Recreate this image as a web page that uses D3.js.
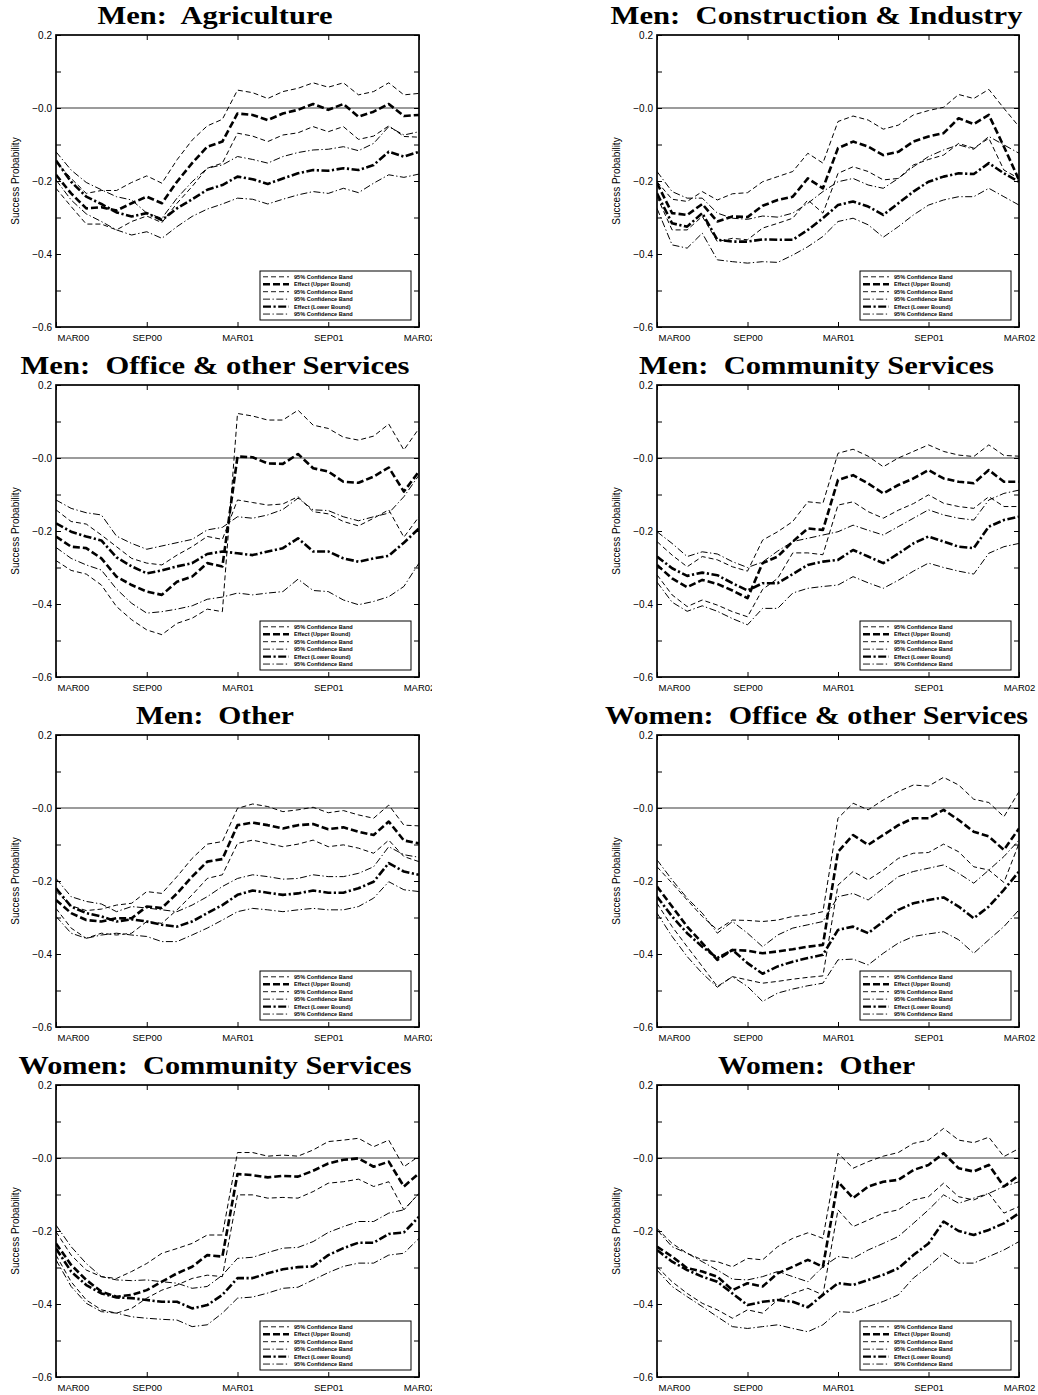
<!DOCTYPE html>
<html><head><meta charset="utf-8">
<script src="https://cdn.jsdelivr.net/npm/d3@7/dist/d3.min.js"></script>
<style>body{margin:0;background:#fff}svg{display:block}</style>
</head><body>
<svg id="chart" width="1038" height="1395"></svg>
<script>
// ---------- categories / labels ----------
const months = ["2000-03","2000-04","2000-05","2000-06","2000-07","2000-08","2000-09","2000-10","2000-11","2000-12",
  "2001-01","2001-02","2001-03","2001-04","2001-05","2001-06","2001-07","2001-08","2001-09","2001-10","2001-11","2001-12",
  "2002-01","2002-02","2002-03"];
const tickMonths = ["2000-03","2000-09","2001-03","2001-09","2002-03"];
const tickLabels = ["MAR00","SEP00","MAR01","SEP01","MAR02"];
const yMajor = [0.2, 0.0, -0.2, -0.4, -0.6];
const yMajorLabels = ["0.2","\u22120.0","\u22120.2","\u22120.4","\u22120.6"];
const yMinor = [0.1, -0.1, -0.3, -0.5];
const legendLabels = ["95% Confidence Band","Effect (Upper Bound)","95% Confidence Band",
  "95% Confidence Band","Effect (Lower Bound)","95% Confidence Band"];
const titles = ["Men:  Agriculture","Men:  Construction & Industry","Men:  Office & other Services",
  "Men:  Community Services","Men:  Other","Women:  Office & other Services",
  "Women:  Community Services","Women:  Other"];
const yLabel = "Success Probability";

// ---------- data: Men Agriculture ----------
const agrCbHi1 = [-0.147,-0.193,-0.234,-0.226,-0.226,-0.204,-0.186,-0.206,-0.142,-0.088,-0.049,-0.031,0.049,0.042,0.026,0.045,0.054,0.069,0.057,0.069,0.036,0.045,0.069,0.036,0.040];
const agrUpper  = [-0.183,-0.234,-0.275,-0.272,-0.281,-0.261,-0.243,-0.261,-0.202,-0.151,-0.106,-0.092,-0.015,-0.019,-0.033,-0.015,-0.005,0.011,-0.005,0.011,-0.024,-0.010,0.011,-0.022,-0.019];
const agrCbLo1 = [-0.220,-0.270,-0.318,-0.318,-0.334,-0.311,-0.296,-0.314,-0.261,-0.215,-0.165,-0.151,-0.069,-0.077,-0.092,-0.074,-0.068,-0.051,-0.065,-0.051,-0.086,-0.077,-0.049,-0.078,-0.080];
const agrCbHi2 = [-0.120,-0.170,-0.204,-0.224,-0.243,-0.252,-0.288,-0.302,-0.247,-0.202,-0.165,-0.156,-0.133,-0.141,-0.151,-0.133,-0.122,-0.115,-0.113,-0.106,-0.117,-0.097,-0.051,-0.074,-0.065];
const agrLower  = [-0.144,-0.202,-0.243,-0.263,-0.286,-0.297,-0.288,-0.307,-0.275,-0.250,-0.224,-0.211,-0.188,-0.195,-0.208,-0.193,-0.179,-0.170,-0.172,-0.165,-0.170,-0.156,-0.120,-0.133,-0.120];
const agrCbLo2 = [-0.197,-0.252,-0.290,-0.311,-0.334,-0.348,-0.339,-0.357,-0.325,-0.297,-0.277,-0.263,-0.247,-0.250,-0.263,-0.250,-0.238,-0.229,-0.234,-0.220,-0.232,-0.206,-0.183,-0.190,-0.181];

// ---------- Men Construction & Industry ----------
const conCbHi1 = [-0.202,-0.250,-0.256,-0.229,-0.252,-0.235,-0.232,-0.202,-0.188,-0.174,-0.124,-0.151,-0.037,-0.022,-0.033,-0.058,-0.047,-0.019,-0.007,0.002,0.037,0.026,0.051,-0.001,-0.051];
const conUpper  = [-0.206,-0.288,-0.293,-0.263,-0.311,-0.297,-0.299,-0.268,-0.252,-0.243,-0.193,-0.220,-0.110,-0.092,-0.106,-0.129,-0.120,-0.092,-0.078,-0.069,-0.028,-0.044,-0.019,-0.106,-0.197];
const conCbLo1 = [-0.243,-0.334,-0.334,-0.297,-0.366,-0.357,-0.361,-0.329,-0.316,-0.302,-0.252,-0.288,-0.179,-0.161,-0.174,-0.197,-0.193,-0.156,-0.141,-0.129,-0.097,-0.110,-0.083,-0.170,-0.193];
const conCbHi2 = [-0.174,-0.229,-0.247,-0.247,-0.288,-0.302,-0.305,-0.296,-0.299,-0.288,-0.261,-0.229,-0.202,-0.193,-0.211,-0.220,-0.193,-0.161,-0.133,-0.115,-0.101,-0.113,-0.078,-0.101,-0.124];
const conLower  = [-0.234,-0.316,-0.325,-0.288,-0.361,-0.366,-0.366,-0.360,-0.361,-0.361,-0.334,-0.302,-0.266,-0.256,-0.270,-0.293,-0.261,-0.229,-0.202,-0.188,-0.179,-0.181,-0.151,-0.179,-0.202];
const conCbLo2 = [-0.275,-0.375,-0.384,-0.343,-0.416,-0.421,-0.425,-0.421,-0.423,-0.403,-0.380,-0.352,-0.311,-0.302,-0.320,-0.354,-0.325,-0.293,-0.266,-0.252,-0.243,-0.243,-0.220,-0.243,-0.266];

// ---------- Men Office & other Services ----------
const offCbHi1 = [-0.281,-0.308,-0.318,-0.348,-0.407,-0.443,-0.471,-0.484,-0.453,-0.439,-0.414,-0.421,0.122,0.115,0.104,0.104,0.131,0.090,0.081,0.057,0.049,0.060,0.093,0.022,0.081];
const offUpper  = [-0.215,-0.243,-0.247,-0.275,-0.325,-0.348,-0.366,-0.375,-0.339,-0.325,-0.288,-0.297,0.004,0.002,-0.015,-0.016,0.011,-0.028,-0.037,-0.065,-0.068,-0.051,-0.026,-0.092,-0.037];
const offCbLo1 = [-0.142,-0.174,-0.181,-0.211,-0.243,-0.275,-0.288,-0.293,-0.266,-0.243,-0.215,-0.223,-0.115,-0.122,-0.129,-0.126,-0.106,-0.147,-0.153,-0.174,-0.186,-0.165,-0.142,-0.217,-0.161];
const offCbHi2 = [-0.115,-0.138,-0.150,-0.156,-0.214,-0.234,-0.250,-0.241,-0.232,-0.223,-0.197,-0.190,-0.161,-0.165,-0.156,-0.141,-0.110,-0.142,-0.144,-0.161,-0.172,-0.161,-0.151,-0.106,-0.047];
const offLower  = [-0.179,-0.202,-0.215,-0.226,-0.272,-0.297,-0.316,-0.308,-0.297,-0.288,-0.263,-0.256,-0.261,-0.266,-0.256,-0.247,-0.220,-0.256,-0.256,-0.275,-0.284,-0.275,-0.268,-0.232,-0.193];
const offCbLo2 = [-0.245,-0.275,-0.293,-0.307,-0.359,-0.398,-0.425,-0.421,-0.414,-0.405,-0.387,-0.381,-0.370,-0.375,-0.370,-0.366,-0.332,-0.363,-0.366,-0.389,-0.402,-0.393,-0.380,-0.352,-0.288];

// ---------- Men Community Services ----------
const comCbHi1 = [-0.229,-0.266,-0.298,-0.270,-0.279,-0.298,-0.310,-0.225,-0.202,-0.174,-0.120,-0.124,0.013,0.024,0.005,-0.024,0.000,0.018,0.036,0.018,0.008,0.004,0.036,0.007,0.005];
const comUpper  = [-0.293,-0.330,-0.354,-0.334,-0.345,-0.363,-0.384,-0.288,-0.270,-0.229,-0.193,-0.197,-0.060,-0.047,-0.070,-0.097,-0.074,-0.056,-0.033,-0.056,-0.065,-0.069,-0.033,-0.065,-0.065];
const comCbLo1 = [-0.320,-0.375,-0.407,-0.389,-0.403,-0.421,-0.435,-0.360,-0.330,-0.260,-0.260,-0.265,-0.129,-0.120,-0.147,-0.165,-0.143,-0.125,-0.101,-0.124,-0.133,-0.138,-0.106,-0.133,-0.133];
const comCbHi2 = [-0.202,-0.234,-0.270,-0.257,-0.263,-0.284,-0.300,-0.285,-0.255,-0.229,-0.220,-0.211,-0.202,-0.184,-0.198,-0.211,-0.188,-0.165,-0.142,-0.156,-0.165,-0.170,-0.115,-0.097,-0.088];
const comLower  = [-0.270,-0.302,-0.323,-0.314,-0.321,-0.343,-0.363,-0.343,-0.343,-0.318,-0.293,-0.284,-0.279,-0.252,-0.270,-0.288,-0.262,-0.234,-0.215,-0.229,-0.243,-0.247,-0.188,-0.170,-0.161];
const comCbLo2 = [-0.340,-0.395,-0.420,-0.405,-0.420,-0.440,-0.457,-0.412,-0.412,-0.370,-0.357,-0.352,-0.348,-0.325,-0.342,-0.357,-0.335,-0.310,-0.288,-0.300,-0.310,-0.318,-0.261,-0.243,-0.234];

// ---------- Men Other ----------
const othCbHi1 = [-0.229,-0.268,-0.281,-0.277,-0.266,-0.261,-0.229,-0.234,-0.188,-0.138,-0.099,-0.092,-0.001,0.011,0.004,-0.010,-0.005,0.002,-0.013,-0.007,-0.019,-0.028,0.008,-0.047,-0.049];
const othUpper  = [-0.252,-0.288,-0.307,-0.311,-0.302,-0.302,-0.270,-0.274,-0.234,-0.188,-0.147,-0.140,-0.047,-0.040,-0.047,-0.056,-0.047,-0.044,-0.058,-0.053,-0.065,-0.074,-0.037,-0.089,-0.097];
const othCbLo1 = [-0.275,-0.329,-0.357,-0.343,-0.348,-0.343,-0.311,-0.316,-0.279,-0.238,-0.193,-0.183,-0.097,-0.088,-0.097,-0.106,-0.099,-0.088,-0.106,-0.101,-0.110,-0.124,-0.088,-0.133,-0.147];
const othCbHi2 = [-0.193,-0.243,-0.256,-0.263,-0.284,-0.270,-0.274,-0.279,-0.284,-0.266,-0.243,-0.215,-0.193,-0.183,-0.188,-0.195,-0.193,-0.183,-0.188,-0.188,-0.179,-0.161,-0.106,-0.128,-0.135];
const othLower  = [-0.220,-0.270,-0.288,-0.297,-0.311,-0.305,-0.311,-0.320,-0.325,-0.311,-0.288,-0.266,-0.238,-0.226,-0.232,-0.238,-0.234,-0.226,-0.232,-0.232,-0.220,-0.202,-0.151,-0.174,-0.183];
const othCbLo2 = [-0.297,-0.343,-0.357,-0.348,-0.343,-0.348,-0.352,-0.366,-0.366,-0.348,-0.329,-0.307,-0.284,-0.275,-0.279,-0.284,-0.279,-0.275,-0.279,-0.279,-0.270,-0.247,-0.202,-0.224,-0.229];

// ---------- Women Office & other Services ----------
const wofCbHi1 = [-0.161,-0.206,-0.252,-0.297,-0.334,-0.307,-0.308,-0.311,-0.307,-0.297,-0.293,-0.284,-0.028,0.013,-0.005,0.022,0.045,0.063,0.060,0.084,0.063,0.024,0.015,-0.024,0.045];
const wofUpper  = [-0.215,-0.270,-0.325,-0.370,-0.416,-0.389,-0.391,-0.398,-0.393,-0.387,-0.380,-0.375,-0.120,-0.074,-0.101,-0.074,-0.047,-0.028,-0.028,-0.005,-0.033,-0.065,-0.078,-0.115,-0.056];
const wofCbLo1 = [-0.261,-0.325,-0.380,-0.434,-0.489,-0.462,-0.471,-0.480,-0.475,-0.469,-0.464,-0.460,-0.211,-0.174,-0.197,-0.170,-0.138,-0.124,-0.122,-0.099,-0.120,-0.161,-0.170,-0.204,-0.097];
const wofCbHi2 = [-0.142,-0.197,-0.247,-0.288,-0.343,-0.311,-0.343,-0.380,-0.348,-0.329,-0.320,-0.311,-0.243,-0.234,-0.252,-0.220,-0.188,-0.174,-0.165,-0.156,-0.179,-0.206,-0.170,-0.133,-0.088];
const wofLower  = [-0.243,-0.297,-0.343,-0.380,-0.411,-0.389,-0.425,-0.454,-0.434,-0.421,-0.411,-0.402,-0.334,-0.325,-0.343,-0.311,-0.279,-0.261,-0.252,-0.245,-0.270,-0.302,-0.270,-0.224,-0.174];
const wofCbLo2 = [-0.288,-0.352,-0.407,-0.453,-0.491,-0.462,-0.489,-0.530,-0.507,-0.496,-0.487,-0.480,-0.416,-0.414,-0.430,-0.398,-0.370,-0.352,-0.345,-0.339,-0.361,-0.398,-0.361,-0.325,-0.279];

// ---------- Women Community Services ----------
const wcoCbHi1 = [-0.202,-0.266,-0.307,-0.325,-0.330,-0.311,-0.289,-0.261,-0.248,-0.234,-0.211,-0.211,0.015,0.015,0.005,0.008,0.005,0.022,0.045,0.049,0.054,0.031,0.049,-0.024,0.005];
const wcoUpper  = [-0.234,-0.293,-0.334,-0.366,-0.380,-0.375,-0.362,-0.339,-0.316,-0.298,-0.266,-0.270,-0.044,-0.047,-0.053,-0.049,-0.051,-0.035,-0.015,-0.005,-0.001,-0.024,-0.010,-0.078,-0.042];
const wcoCbLo1 = [-0.266,-0.339,-0.389,-0.416,-0.425,-0.412,-0.384,-0.362,-0.348,-0.330,-0.321,-0.325,-0.101,-0.101,-0.110,-0.108,-0.110,-0.092,-0.069,-0.065,-0.058,-0.078,-0.065,-0.142,-0.097];
const wcoCbHi2 = [-0.184,-0.243,-0.289,-0.325,-0.334,-0.336,-0.334,-0.339,-0.343,-0.357,-0.352,-0.321,-0.275,-0.272,-0.259,-0.247,-0.245,-0.229,-0.204,-0.188,-0.174,-0.174,-0.151,-0.142,-0.097];
const wcoLower  = [-0.248,-0.311,-0.348,-0.371,-0.382,-0.384,-0.389,-0.394,-0.394,-0.412,-0.403,-0.375,-0.329,-0.329,-0.316,-0.305,-0.299,-0.297,-0.266,-0.247,-0.232,-0.232,-0.208,-0.204,-0.161];
const wcoCbLo2 = [-0.279,-0.352,-0.398,-0.421,-0.425,-0.435,-0.439,-0.442,-0.444,-0.462,-0.457,-0.425,-0.384,-0.381,-0.370,-0.357,-0.354,-0.334,-0.314,-0.297,-0.288,-0.288,-0.266,-0.261,-0.220];

// ---------- Women Other ----------
const wotCbHi1 = [-0.193,-0.234,-0.261,-0.279,-0.284,-0.298,-0.275,-0.279,-0.243,-0.220,-0.205,-0.220,0.013,-0.028,-0.010,0.005,0.015,0.040,0.049,0.081,0.049,0.042,0.057,0.004,0.026];
const wotUpper  = [-0.243,-0.270,-0.302,-0.311,-0.325,-0.362,-0.343,-0.352,-0.316,-0.298,-0.279,-0.298,-0.065,-0.110,-0.078,-0.065,-0.060,-0.033,-0.019,0.013,-0.028,-0.037,-0.019,-0.078,-0.047];
const wotCbLo1 = [-0.298,-0.339,-0.371,-0.398,-0.416,-0.439,-0.416,-0.425,-0.389,-0.371,-0.357,-0.375,-0.142,-0.188,-0.170,-0.151,-0.142,-0.115,-0.106,-0.069,-0.106,-0.115,-0.097,-0.151,-0.133];
const wotCbHi2 = [-0.197,-0.243,-0.261,-0.284,-0.307,-0.332,-0.334,-0.325,-0.311,-0.325,-0.339,-0.298,-0.270,-0.275,-0.252,-0.234,-0.215,-0.179,-0.142,-0.101,-0.124,-0.110,-0.097,-0.078,-0.065];
const wotLower  = [-0.252,-0.284,-0.307,-0.325,-0.339,-0.371,-0.403,-0.394,-0.389,-0.394,-0.409,-0.375,-0.343,-0.348,-0.334,-0.320,-0.302,-0.266,-0.234,-0.174,-0.200,-0.211,-0.197,-0.179,-0.151];
const wotCbLo2 = [-0.307,-0.352,-0.380,-0.407,-0.435,-0.462,-0.467,-0.462,-0.457,-0.467,-0.476,-0.457,-0.421,-0.423,-0.407,-0.393,-0.375,-0.329,-0.297,-0.261,-0.288,-0.288,-0.270,-0.252,-0.229];

const panelSeries = [
  [agrCbHi1, agrUpper, agrCbLo1, agrCbHi2, agrLower, agrCbLo2],
  [conCbHi1, conUpper, conCbLo1, conCbHi2, conLower, conCbLo2],
  [offCbHi1, offUpper, offCbLo1, offCbHi2, offLower, offCbLo2],
  [comCbHi1, comUpper, comCbLo1, comCbHi2, comLower, comCbLo2],
  [othCbHi1, othUpper, othCbLo1, othCbHi2, othLower, othCbLo2],
  [wofCbHi1, wofUpper, wofCbLo1, wofCbHi2, wofLower, wofCbLo2],
  [wcoCbHi1, wcoUpper, wcoCbLo1, wcoCbHi2, wcoLower, wcoCbLo2],
  [wotCbHi1, wotUpper, wotCbLo1, wotCbHi2, wotLower, wotCbLo2]
];

// ---------- layout / styling ----------
const colLeft = [56, 657], colRight = [419, 1019], colClip = [432, 1038], colTitleX = [215, 816.5];
const rowTop0 = 35, rowStep = 350, plotH = 292;
const titleWidths = [235, 412, 389, 355, 158, 423, 393, 197];
const lineStyles = [
  {w: 1.0, dash: "5,3"},
  {w: 2.6, dash: "7,3"},
  {w: 1.0, dash: "5,3"},
  {w: 1.0, dash: "7,2.5,1.3,2.5"},
  {w: 2.6, dash: "8,2.5,2.2,2.5"},
  {w: 1.0, dash: "7,2.5,1.3,2.5"}
];
const sans = "'Liberation Sans', Arial, Helvetica, sans-serif";

const svg = d3.select("#chart");
svg.append("rect").attr("width", 1038).attr("height", 1395).attr("fill", "#fff");
const defs = svg.append("defs");

panelSeries.forEach((series, p) => {
  const col = p % 2, row = Math.floor(p / 2);
  const left = colLeft[col], right = colRight[col];
  const top = rowTop0 + row * rowStep, bottom = top + plotH;

  const x = d3.scaleLinear().domain([0, months.length - 1]).range([left, right]);
  const y = d3.scaleLinear().domain([-0.6, 0.2]).range([bottom, top]);

  const clipId = "clip" + p;
  defs.append("clipPath").attr("id", clipId).append("rect")
    .attr("x", col ? 600 : 0).attr("y", top - 40).attr("width", colClip[col] - (col ? 600 : 0)).attr("height", plotH + 70);

  const g = svg.append("g").attr("clip-path", `url(#${clipId})`);

  // title
  g.append("text").attr("x", colTitleX[col]).attr("y", top - 11)
    .attr("text-anchor", "middle")
    .attr("font-family", "'Liberation Serif', 'Times New Roman', serif")
    .attr("font-weight", "bold").attr("font-size", 25)
    .attr("textLength", titleWidths[p]).attr("lengthAdjust", "spacingAndGlyphs")
    .attr("xml:space", "preserve")
    .text(titles[p]);

  // y label
  g.append("text").attr("transform", `translate(${left - 37},${(top + bottom) / 2}) rotate(-90)`)
    .attr("text-anchor", "middle").attr("font-family", sans).attr("font-size", 10)
    .text(yLabel);

  // zero line
  g.append("line").attr("x1", left).attr("x2", right).attr("y1", y(0)).attr("y2", y(0))
    .attr("stroke", "#7a7a7a").attr("stroke-width", 1.4);

  // series
  const plotClip = "pclip" + p;
  defs.append("clipPath").attr("id", plotClip).append("rect")
    .attr("x", left).attr("y", top).attr("width", right - left).attr("height", plotH);
  const line = d3.line().x((d, i) => x(i)).y(d => y(d));
  const lg = g.append("g").attr("clip-path", `url(#${plotClip})`);
  series.forEach((s, k) => {
    lg.append("path").attr("d", line(s)).attr("fill", "none").attr("stroke", "#000")
      .attr("stroke-width", lineStyles[k].w).attr("stroke-dasharray", lineStyles[k].dash)
      .attr("stroke-linejoin", "round");
  });

  // axes (inward ticks)
  const tickIdx = tickMonths.map(m => months.indexOf(m));
  const axL = g.append("g").attr("transform", `translate(${left},0)`)
    .call(d3.axisLeft(y).tickValues(yMajor).tickSize(-5).tickPadding(4)
      .tickFormat((d, i) => yMajorLabels[i]));
  axL.selectAll("text").attr("font-family", sans).attr("font-size", 10).attr("fill", "#000");
  g.append("g").attr("transform", `translate(${left},0)`)
    .call(d3.axisLeft(y).tickValues(yMinor).tickSize(-5).tickFormat(""));
  g.append("g").attr("transform", `translate(${right},0)`)
    .call(d3.axisRight(y).tickValues(yMajor.concat(yMinor)).tickSize(-5).tickFormat(""));
  const axB = g.append("g").attr("transform", `translate(0,${bottom})`)
    .call(d3.axisBottom(x).tickValues(tickIdx).tickSize(-5).tickPadding(7)
      .tickFormat((d, i) => tickLabels[i]));
  axB.selectAll("text").attr("font-family", sans).attr("font-size", 9.5).attr("fill", "#000");
  axB.select(".tick text").attr("text-anchor", "start").attr("x", 1);
  g.append("g").attr("transform", `translate(0,${top})`)
    .call(d3.axisTop(x).tickValues(tickIdx).tickSize(-5).tickFormat(""));
  g.selectAll(".domain").remove();
  g.selectAll(".tick line").attr("stroke", "#000").attr("stroke-width", 1);

  // frame
  g.append("rect").attr("x", left).attr("y", top).attr("width", right - left).attr("height", plotH)
    .attr("fill", "none").attr("stroke", "#000").attr("stroke-width", 1.7);

  // legend
  const bx = right - 159, by = bottom - 56;
  const leg = g.append("g");
  leg.append("rect").attr("x", bx).attr("y", by).attr("width", 151).attr("height", 49)
    .attr("fill", "#fff").attr("stroke", "#000").attr("stroke-width", 1);
  legendLabels.forEach((lab, k) => {
    const yy = by + 5.8 + 7.45 * k;
    leg.append("line").attr("x1", bx + 3).attr("x2", bx + 29).attr("y1", yy).attr("y2", yy)
      .attr("stroke", "#000").attr("stroke-width", lineStyles[k].w * 0.9)
      .attr("stroke-dasharray", lineStyles[k].dash);
    leg.append("text").attr("x", bx + 34).attr("y", yy).attr("dy", "0.35em")
      .attr("font-family", sans).attr("font-weight", "bold").attr("font-size", 5.6)
      .text(lab);
  });
});
</script>
</body></html>
